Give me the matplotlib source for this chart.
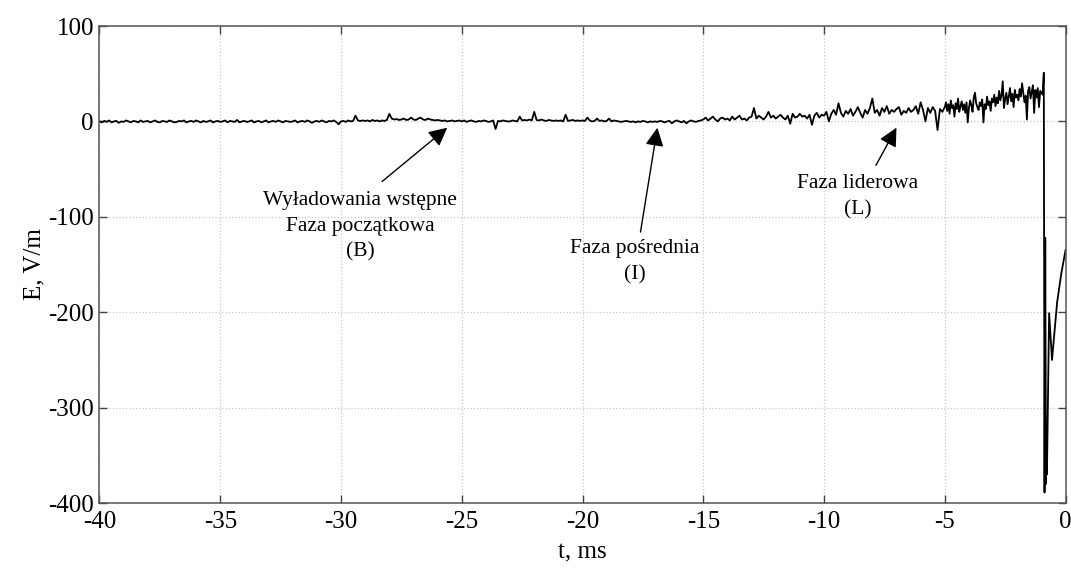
import numpy as np
import matplotlib
matplotlib.use("Agg")
import matplotlib.pyplot as plt

# --- Global style: MATLAB-like serif look ---
plt.rcParams.update({
    "font.family": "Liberation Serif",
    "axes.unicode_minus": False,
})

# ======================================================
# DATA
# ======================================================
# early part: -40.0 .. -15.1 ms, every 0.1 ms
e_early = [
    0, -1, 0.5, -0.5, 1, -1, 0, 0.5, -1.5, 0,
    -0.5, 1, 0, -1, 0.5, 0, -1, 1, -0.5, 0,
    0.5, -1, 0, 1, -0.5, -1, 0.5, 0, -0.5, 1,
    0, -1, -0.5, 0.5, 0, 1, -1, 0, 0.5, -0.5,
    1, 0, -1, 0.5, -0.5, 0, 1, -1, 0, 0.5,
    -0.5, 0, 1, -1, 0.5, 0, -0.5, 1.5, -1, 0,
    0.5, -0.5, 0, 1, -1, 0, 0.5, -1, 0, 1,
    -1, 0, 0.5, -0.5, 1, 0, -1, 0.5, 0, -0.5,
    0, 1, -1, 0, 0.5, -0.5, 1, 0, -1.5, 0,
    0.5, -0.5, 1, 0, -1, 0.5, 0, 1, -0.5, -3,
    0, 0.5, -0.5, 1, 0, 0.5, 6, 1, 0.5, 1,
    0.5, 1, 0, 1.5, 0.5, 1, 0, 1, 0.5, 1.5,
    8, 3, 2, 2.5, 1.5, 2, 3, 1.5, 2, 4,
    2, 1.5, 3, 4, 2, 1.5, 3, 2, 1.5, 1,
    1.5, 1, 0.5, 1, 0, 0.5, 1, 0, 0.5, 1,
    0, 1, -0.5, 0.5, 1, 0, -0.5, 0.5, 0, 1,
    0.5, -0.5, 0, 1, -8, 0.5, 0, 1, 0.5, 0,
    0, 1, 0.5, 0, 5, 1, 1.5, 1, 2, 1,
    10, 1.5, 1, 2, 1, 0.5, 1.5, 1, 0.5, 1,
    0.5, 1, 0, 7, 0.5, 1, 1.5, 0.5, 1, 0.5,
    1, 0.5, 4, 1, 0, 0.5, 3, 0.5, 1, 0,
    0.5, 3, 0, 1, 0.5, 0, -0.5, 0, 0.5, 0,
    -0.5, 0, -1, 0, -0.5, 0.5, 0, -1, 0, -0.5,
    0, -0.5, 0.5, 0, -1, 0, 0.5, -2, 0, 1,
    0, -1, 0.5, -2, 0, 1, 0, -0.5, 0.5, 1,
]

# middle part: -15.0 .. -5.1 ms, every 0.1 ms
e_mid = [
    2, 4, 1, 3, 5, 2, 0, 3, 4, 2,
    3, 1, 5, 2, 4, 6, 2, 3, 1, 4,
    5, 14, 3, 6, 4, 2, 5, 10, 4, 6,
    3, 5, 7, 4, 2, 6, -2.5, 8, 4, 5,
    8, 5, 6, 3, 7, -3.5, 6, 9, 4, 7,
    6, 10, 0, 8, 12, 7, 19, 9, 5, 11,
    8, 13, 6, 10, 15, 9, 4, 12, 8, 14,
    24, 9, 12, 6, 14, 10, 16, 8, 12, 10,
    13, 15, 7, 11, 9, 14, 10, 12, 16, 8,
    20, 12, 0, 14, 9, 15, 11, -9, 13, 10,
]

# leader part: -5.00 .. -0.95 ms, every 0.05 ms
e_late = [
    15, 20, 11, 18, 8, 22, 14, 17, 5, 19, 13, 24, 10, 16, 21, 12, 18, 9, 20, -1,
    14, 22, 17, 10, 25, 30, 19, 15, 12, 20, 16, 23, -1, 18, 13, 26, 17, 21, 11, 24,
    20, 28, 16, 25, 19, 32, 22, 27, 42, 14, 24, 30, 18, 26, 35, 21, 29, 15, 33, 25,
    28, 22, 34, 26, 40, 30, 20, 27, 2, 32, 36, 24, 31, 38, 9, 33, 25, 35, 15, 32,
    30, 28,
]

# return stroke
t_stroke = [-0.90, -0.87, -0.84, -0.81, -0.79, -0.77, -0.68, -0.56, -0.35, -0.18, 0.0]
e_stroke = [51, -389, -122, -380, -350, -370, -201, -250, -190, -160, -135]

# annotations: text, arrow tip (t, E), arrow tail (t, E), text centre (t, E)
labels = ["Wyładowania wstępne\nFaza początkowa\n(B)",
          "Faza pośrednia\n(I)",
          "Faza liderowa\n(L)"]
tips = [(-25.6, -6.6), (-16.9, -6.6), (-7.0, -6.6)]
tails = [(-28.3, -63), (-17.6, -116), (-7.85, -46)]
text_pos = [(-29.2, -110), (-17.85, -147), (-8.6, -79)]

# ======================================================
# BUILD SERIES
# ======================================================
t = np.concatenate([
    np.linspace(-40.0, -15.1, len(e_early)),
    np.linspace(-15.0, -5.1, len(e_mid)),
    np.linspace(-5.0, -0.95, len(e_late)),
    t_stroke,
])
e = np.concatenate([e_early, e_mid, e_late, e_stroke])

# ======================================================
# PLOT
# ======================================================
fig = plt.figure(figsize=(10.71, 5.68), dpi=100)
ax = fig.add_axes([0.0929, 0.1144, 0.902, 0.8398])

ax.plot(t, e, color="black", lw=1.3)

ax.set_xlim(-40, 0)
ax.set_ylim(-400, 100)
ax.set_xticks(np.arange(-40, 1, 5))
ax.set_yticks(np.arange(-400, 101, 100))

ax.grid(True, color="#c8c8c8", linestyle=":", linewidth=0.9)
ax.tick_params(direction="in", length=6, width=1, color="#444444",
               top=True, right=True, labelsize=18)
ax.tick_params(axis="x", pad=6)
ax.tick_params(axis="y", pad=4)
for sp in ax.spines.values():
    sp.set_color("#555555")
    sp.set_linewidth(1.1)

ax.set_xlabel("t, ms", fontsize=18, labelpad=6)
ax.set_ylabel("E, V/m", fontsize=18, labelpad=2)

for txt, tip, tail, pos in zip(labels, tips, tails, text_pos):
    ax.annotate("", xy=tip, xytext=tail,
                arrowprops=dict(arrowstyle="-|>", color="black", lw=1,
                                mutation_scale=28, shrinkA=0, shrinkB=0))
    ax.text(pos[0], pos[1], txt, ha="center", va="center", fontsize=15.5,
            linespacing=1.45)

fig.savefig("out.png", dpi=100)
